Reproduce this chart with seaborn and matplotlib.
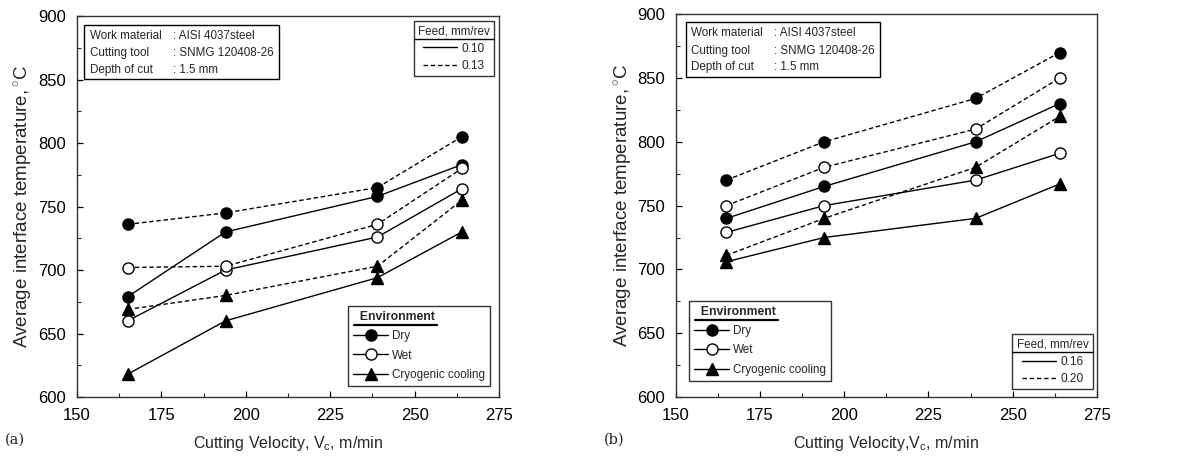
import numpy as np
import pandas as pd
import matplotlib
matplotlib.use("Agg")
import matplotlib.pyplot as plt
import seaborn as sns
from matplotlib.lines import Line2D
from matplotlib.patches import Rectangle

sns.set_theme(style="ticks")
plt.rcParams['font.family'] = ['Liberation Sans', 'DejaVu Sans']
plt.rcParams['mathtext.fontset'] = 'custom'
plt.rcParams['mathtext.rm'] = 'Liberation Sans'
plt.rcParams['mathtext.it'] = 'Liberation Sans'

# ---- data ----
velocity = [165, 194, 239, 264]
environments = ["Dry", "Wet", "Cryogenic cooling"]

# panel (a): feeds 0.10 and 0.13
feeds_a = ["0.10", "0.13"]
a_dry_010 = [679, 730, 758, 783]
a_dry_013 = [736, 745, 765, 805]
a_wet_010 = [660, 700, 726, 764]
a_wet_013 = [702, 703, 736, 780]
a_cryo_010 = [618, 660, 694, 730]
a_cryo_013 = [669, 680, 703, 755]

# panel (b): feeds 0.16 and 0.20
feeds_b = ["0.16", "0.20"]
b_dry_016 = [740, 765, 800, 830]
b_dry_020 = [770, 800, 834, 870]
b_wet_016 = [729, 750, 770, 791]
b_wet_020 = [750, 780, 810, 850]
b_cryo_016 = [706, 725, 740, 767]
b_cryo_020 = [711, 740, 780, 820]

xticks = [150, 175, 200, 225, 250, 275]
yticks = [600, 650, 700, 750, 800, 850, 900]


def make_df(series):
    rows = []
    for (env, feed), vals in series.items():
        for v, t in zip(velocity, vals):
            rows.append({"Velocity": v, "Temp": t, "Environment": env, "Feed": feed})
    return pd.DataFrame(rows)


df_a = make_df({("Dry", "0.10"): a_dry_010, ("Dry", "0.13"): a_dry_013,
                ("Wet", "0.10"): a_wet_010, ("Wet", "0.13"): a_wet_013,
                ("Cryogenic cooling", "0.10"): a_cryo_010,
                ("Cryogenic cooling", "0.13"): a_cryo_013})
df_b = make_df({("Dry", "0.16"): b_dry_016, ("Dry", "0.20"): b_dry_020,
                ("Wet", "0.16"): b_wet_016, ("Wet", "0.20"): b_wet_020,
                ("Cryogenic cooling", "0.16"): b_cryo_016,
                ("Cryogenic cooling", "0.20"): b_cryo_020})

marker_of = {"Dry": "o", "Wet": "o", "Cryogenic cooling": "^"}
face_of = {"Dry": "black", "Wet": "white", "Cryogenic cooling": "black"}
msize_of = {"Dry": 8.0, "Wet": 8.0, "Cryogenic cooling": 8.8}
DASH = (0, (3.2, 2.0))

fig = plt.figure(figsize=(11.94, 4.59), dpi=100)
ax_a = fig.add_axes([0.0645, 0.135, 0.3534, 0.830])
ax_b = fig.add_axes([0.566, 0.135, 0.3526, 0.834])


def draw_panel(ax, df, feeds, ylabelpad):
    for env in environments:
        for i, feed in enumerate(feeds):
            sub = df[(df.Environment == env) & (df.Feed == feed)]
            sns.lineplot(data=sub, x="Velocity", y="Temp", ax=ax, color="black",
                         linewidth=1.0, linestyle="-" if i == 0 else DASH,
                         marker=marker_of[env], markersize=msize_of[env],
                         markerfacecolor=face_of[env], markeredgecolor="black",
                         markeredgewidth=1.0, legend=False, zorder=3)
    ax.set_xlim(150, 275)
    ax.set_ylim(600, 900)
    ax.set_xticks(xticks)
    ax.set_yticks(yticks)
    ax.set_xticks([162.5, 187.5, 212.5, 237.5, 262.5], minor=True)
    ax.set_yticks([625, 675, 725, 775, 825, 875], minor=True)
    ax.tick_params(which="major", direction="in", length=4, width=0.9,
                   labelsize=12, colors="black", pad=8)
    ax.tick_params(which="minor", direction="in", length=3, width=0.8)
    ax.tick_params(top=False, right=False)
    for s in ax.spines.values():
        s.set_color("#333333")
        s.set_linewidth(1.0)
    ax.set_ylabel("Average interface temperature,$\\,^{\\circ}$C", fontsize=13.5,
                  labelpad=ylabelpad)


def info_box(ax, x0, x1, y0, y1, xt, xc, rows_y):
    ax.add_patch(Rectangle((x0, y0), x1 - x0, y1 - y0, transform=ax.transAxes,
                           fill=True, facecolor="white", edgecolor="black",
                           linewidth=1.0, zorder=5))
    left = ["Work material", "Cutting tool", "Depth of cut"]
    right = [": AISI 4037steel", ": SNMG 120408-26", ": 1.5 mm"]
    for l, r, y in zip(left, right, rows_y):
        ax.text(xt, y, l, transform=ax.transAxes, fontsize=8.4, va="center", ha="left", zorder=6)
        ax.text(xc, y, r, transform=ax.transAxes, fontsize=8.4, va="center", ha="left", zorder=6)


def env_legend(ax, loc, anchor):
    handles = [Line2D([], [], color="black", lw=1.0, marker=marker_of[e], markersize=msize_of[e],
                      markerfacecolor=face_of[e], markeredgecolor="black") for e in environments]
    leg = ax.legend(handles, environments, title="  Environment", loc=loc, bbox_to_anchor=anchor,
                    fontsize=8.4, frameon=True, fancybox=False, edgecolor="black",
                    handlelength=3.0, handletextpad=0.3, labelspacing=0.62,
                    borderpad=0.45, borderaxespad=0, alignment="left",
                    title_fontproperties={"weight": "bold", "size": 8.8})
    leg.get_frame().set_linewidth(1.0)
    leg.set_zorder(7)
    return leg


def feed_legend(ax, feeds, loc, anchor):
    handles = [Line2D([], [], color="black", lw=1.0, linestyle="-"),
               Line2D([], [], color="black", lw=1.0, linestyle=DASH)]
    leg = ax.legend(handles, feeds, title="Feed, mm/rev", loc=loc, bbox_to_anchor=anchor,
                    fontsize=8.6, frameon=True, fancybox=False, edgecolor="black",
                    handlelength=2.9, handletextpad=0.35, labelspacing=0.45,
                    borderpad=0.35, borderaxespad=0, alignment="center",
                    title_fontproperties={"size": 8.4})
    leg.get_frame().set_linewidth(1.0)
    leg.set_zorder(7)
    return leg


draw_panel(ax_a, df_a, feeds_a, 2.5)
draw_panel(ax_b, df_b, feeds_b, 1.5)
ax_a.set_xlabel("Cutting Velocity, V$_\\mathregular{c}$, m/min", fontsize=11.5, labelpad=8)
ax_b.set_xlabel("Cutting Velocity,V$_\\mathregular{c}$, m/min", fontsize=11.5, labelpad=8)

info_box(ax_a, 0.017, 0.479, 0.835, 0.976, 0.031, 0.228, [0.948, 0.903, 0.858])
info_box(ax_b, 0.024, 0.485, 0.836, 0.979, 0.036, 0.233, [0.950, 0.903, 0.862])

legs = []
legs.append(env_legend(ax_a, "lower right", (0.979, 0.029)))
ax_a.add_artist(legs[-1])
legs.append(feed_legend(ax_a, feeds_a, "upper right", (0.988, 0.987)))
legs.append(env_legend(ax_b, "lower left", (0.031, 0.042)))
ax_b.add_artist(legs[-1])
legs.append(feed_legend(ax_b, feeds_b, "lower right", (0.990, 0.020)))

fig.text(0.004, 0.033, "(a)", fontsize=10.5, family="DejaVu Serif")
fig.text(0.506, 0.033, "(b)", fontsize=10.5, family="DejaVu Serif")

# underline legend titles
fig.canvas.draw()
renderer = fig.canvas.get_renderer()
inv = fig.transFigure.inverted()
for leg in legs:
    tb = leg.get_title().get_window_extent(renderer)
    fb = leg.get_frame().get_window_extent(renderer)
    if "Environment" in leg.get_title().get_text():
        x0, x1 = fb.x0 + 6, fb.x0 + 89
        lw = 1.6
    else:
        x0, x1 = fb.x0, fb.x1
        lw = 1.0
    y = tb.y0 - 2
    (fx0, fy), (fx1, _) = inv.transform([(x0, y), (x1, y)])
    fig.add_artist(Line2D([fx0, fx1], [fy, fy], color="black", lw=lw,
                          transform=fig.transFigure, zorder=10))

fig.savefig("out.png", dpi=100)
